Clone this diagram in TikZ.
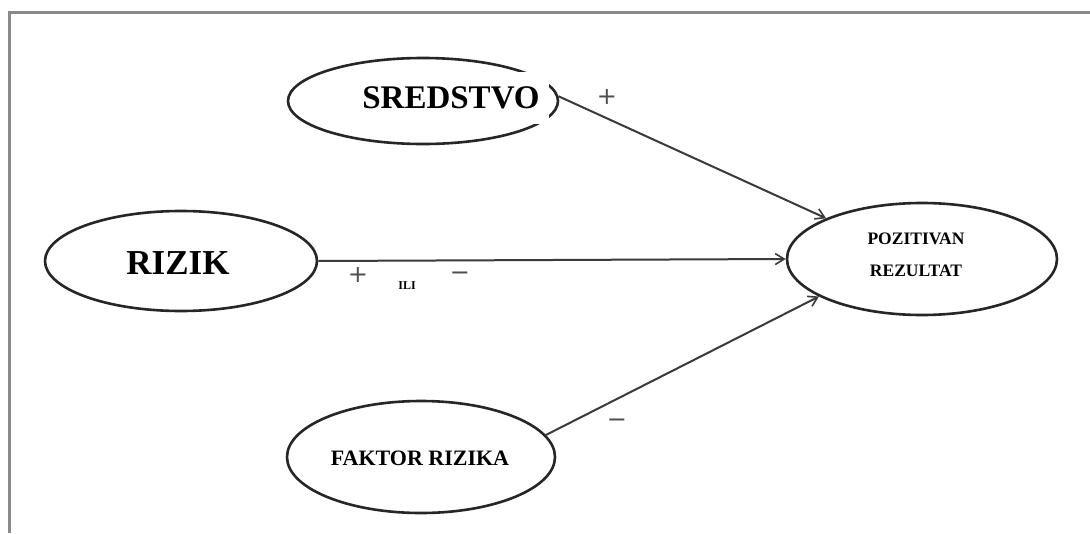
\documentclass[tikz,border=0pt]{standalone}
\usepackage{fontspec}
\setmainfont{Liberation Serif}
\newfontfamily\signfont{DejaVu Sans}
\usetikzlibrary{shapes.geometric,arrows.meta}
\definecolor{framegray}{HTML}{8A8A8A}
\definecolor{linegray}{HTML}{3A3A3A}
\definecolor{signgray}{HTML}{505050}
\tikzset{
  oval/.style={draw=black!85,line width=2.6pt,ellipse,inner sep=0pt},
  lbl/.style={font=\bfseries,text=black,inner sep=0pt,align=center},
  sign/.style={text=signgray,inner sep=0pt},
  conn/.style={draw=linegray,line width=2pt,-{Straight Barb[length=9pt,width=11pt,line width=1.6pt]}}
}
\newcommand{\plussign}{{\signfont\fontsize{24}{24}\selectfont +}}
\newcommand{\minussign}{{\signfont\fontsize{24}{24}\selectfont −}}
\begin{document}
\begin{tikzpicture}[x=1pt,y=-1pt]
\useasboundingbox (0,0) rectangle (1090,533);
\fill[white] (0,0) rectangle (1090,533);
% frame (top and left)
\draw[framegray,line width=3pt] (9,533) -- (9,12) -- (1090,12);
% ovals
\node[oval,minimum width=270pt,minimum height=86pt] (sred) at (423,101) {};
\node[oval,minimum width=272pt,minimum height=100pt] (rizik) at (181,261) {};
\node[oval,minimum width=270pt,minimum height=112pt] (poz) at (922,259) {};
\node[oval,minimum width=268pt,minimum height=112pt] (fakt) at (421,457) {};
% labels
\node[lbl,fill=white,minimum height=52pt,text width=195pt,font=\bfseries\fontsize{33}{33}\selectfont] (tsred) at (451,98) {SREDSTVO};
\node[lbl,font=\bfseries\fontsize{35}{35}\selectfont] (triz) at (178,263) {RIZIK};
\node[lbl,font=\bfseries\fontsize{17.5}{32}\selectfont] (tpoz) at (916,255) {POZITIVAN\\REZULTAT};
\node[lbl,font=\bfseries\fontsize{22}{22}\selectfont] (tfakt) at (420,458) {FAKTOR RIZIKA};
% connectors
\draw[conn] (sred.2) -- (poz.157);
\draw[conn] (rizik.east) -- (poz.west);
\draw[conn] (fakt.10) -- (poz.200);
% signs
\node[sign] (s1) at (607,97) {\plussign};
\node[sign] (s2) at (358,275) {\plussign};
\node[lbl,font=\bfseries\fontsize{12}{12}\selectfont] (ili) at (407,286) {ILI};
\node[sign] (s3) at (460,276) {\minussign};
\node[sign] (s4) at (617,423) {\minussign};
\end{tikzpicture}
\end{document}
